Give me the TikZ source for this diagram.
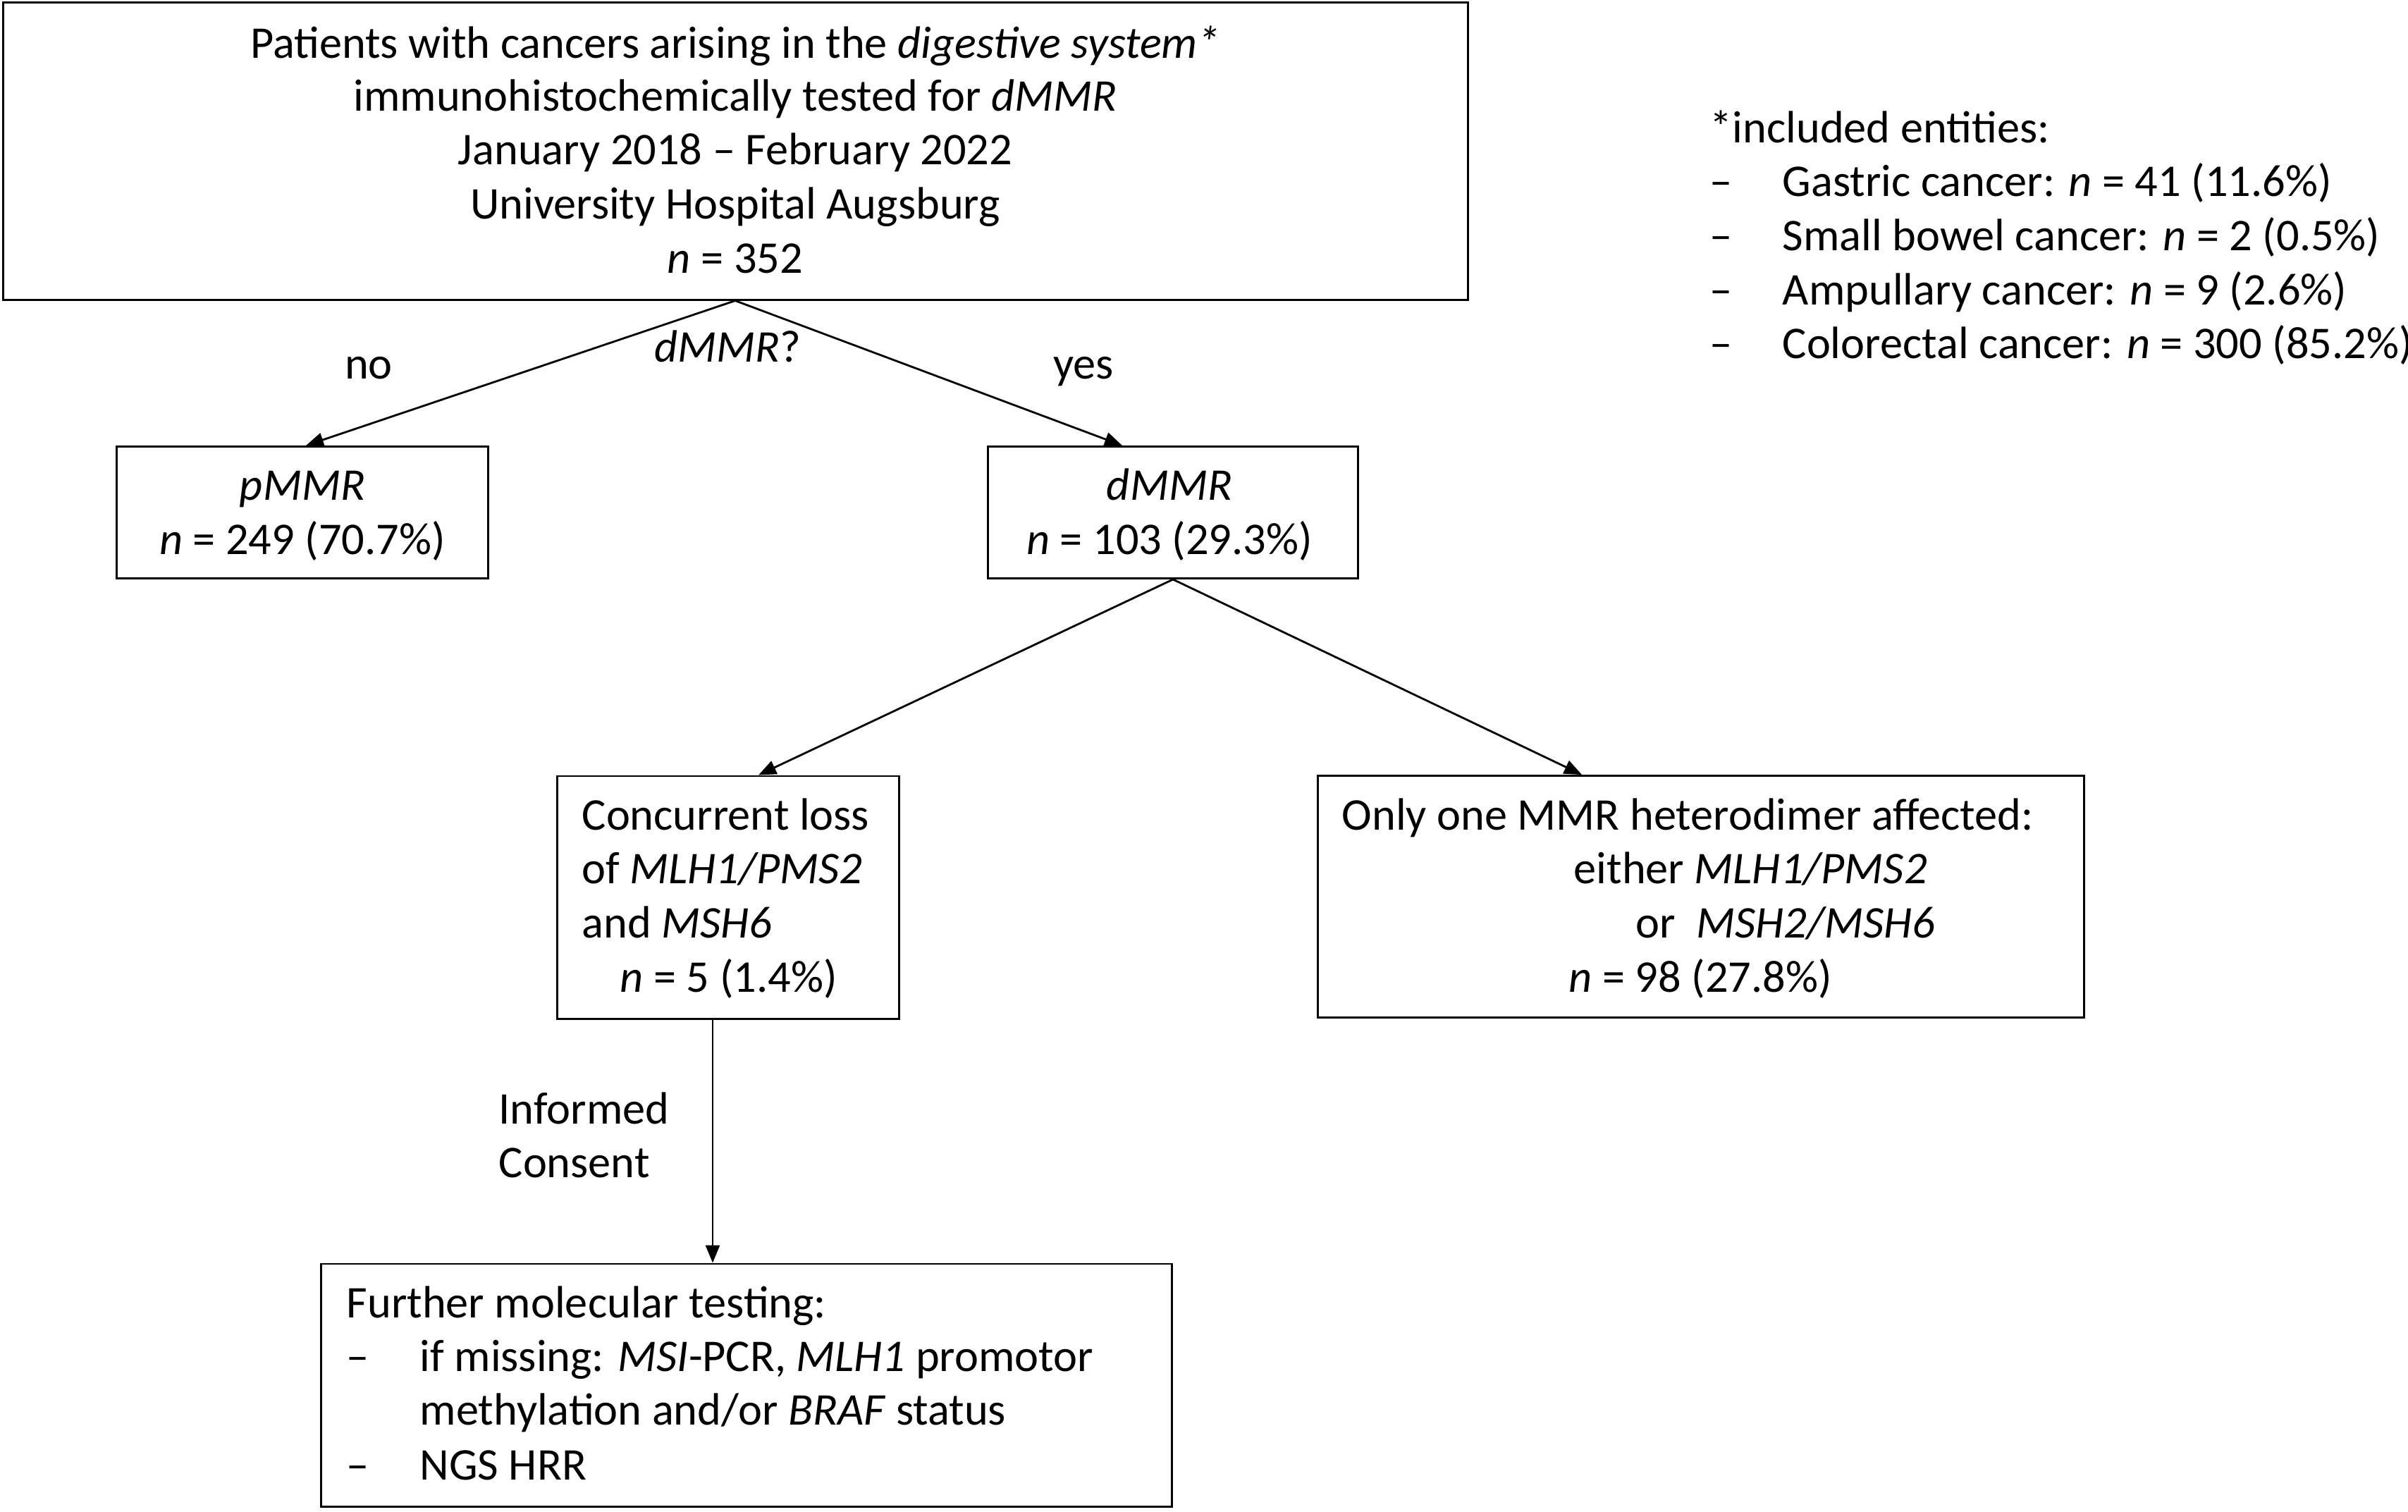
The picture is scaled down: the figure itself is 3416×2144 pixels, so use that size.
\documentclass[tikz,border=0pt]{standalone}
\usepackage{fontspec}
\setmainfont{Carlito}
\usetikzlibrary{arrows.meta}
\begin{document}
\begin{tikzpicture}[x=0.01cm,y=-0.01cm,
  box/.style={draw, line width=0.8pt, inner sep=0pt, rectangle},
  txt/.style={inner sep=0pt, anchor=base, font=\fontsize{18.3}{22}\selectfont},
  ltxt/.style={txt, anchor=base west},
  conn/.style={line width=0.8pt, -{Triangle[length=0.25cm,width=0.2cm]}},
]
\useasboundingbox (0,0) rectangle (3416,2144);
\fill[white] (0,0) rectangle (3416,2144);

% boxes
\node[box, minimum width=20.77cm, minimum height=4.21cm] (top) at (1043.5,214.5) {};
\node[box, minimum width=5.26cm, minimum height=1.87cm] (pmmr) at (429,727) {};
\node[box, minimum width=5.24cm, minimum height=1.87cm] (dmmr) at (1664,727) {};
\node[box, minimum width=4.84cm, minimum height=3.44cm] (conc) at (1033,1273) {};
\node[box, minimum width=10.87cm, minimum height=3.43cm] (only) at (2413,1272) {};
\node[box, minimum width=12.06cm, minimum height=3.44cm] (further) at (1059,1965) {};

% connector anchor columns
\coordinate (cA) at (1043,0);
\coordinate (cP) at (434,0);
\coordinate (cD) at (1592,0);
\coordinate (cB) at (1664,0);
\coordinate (cC) at (1076,0);
\coordinate (cO) at (2244,0);
\coordinate (cF) at (1011,0);

\draw[conn] (top.south -| cA) -- (pmmr.north -| cP);
\draw[conn] (top.south -| cA) -- (dmmr.north -| cD);
\draw[conn] (dmmr.south -| cB) -- (conc.north -| cC);
\draw[conn] (dmmr.south -| cB) -- (only.north -| cO);
\draw[conn] (conc.south -| cF) -- (further.north -| cF);

% top box text
\node[txt] (t1) at (1043,82) {Patients with cancers arising in the \textit{digestive system*}};
\node[txt] (t2) at (1043,157) {immunohistochemically tested for \textit{dMMR}};
\node[txt] (t3) at (1043,233) {January 2018 – February 2022};
\node[txt] (t4) at (1043,310) {University Hospital Augsburg};
\node[txt] (t5) at (1043,387) {\textit{n} = 352};

% branch labels
\node[txt] (lno) at (523,537) {no};
\node[txt] (lq) at (1032,513) {\textit{dMMR}?};
\node[txt] (lyes) at (1537,537) {yes};

% pMMR / dMMR
\node[txt] (p1) at (429,709) {\textit{pMMR}};
\node[txt] (p2) at (429,786) {\textit{n} = 249 (70.7\%)};
\node[txt] (d1) at (1659,709) {\textit{dMMR}};
\node[txt] (d2) at (1659,786) {\textit{n} = 103 (29.3\%)};

% concurrent loss
\node[ltxt] (c1) at (825,1177) {Concurrent loss};
\node[ltxt] (c2) at (825,1253) {of \textit{MLH1/PMS2}};
\node[ltxt] (c3) at (825,1330) {and \textit{MSH6}};
\node[ltxt] (c4) at (879,1407) {\textit{n} = 5 (1.4\%)};

% only one
\node[ltxt] (o1) at (1903,1177) {Only one MMR heterodimer affected:};
\node[ltxt] (o2) at (2232,1253) {either \textit{MLH1/PMS2}};
\node[ltxt] (o3) at (2320,1330) {or\ \ \textit{MSH2/MSH6}};
\node[ltxt] (o4) at (2225,1407) {\textit{n} = 98 (27.8\%)};

% informed consent
\node[ltxt] (i1) at (707,1594) {Informed};
\node[ltxt] (i2) at (707,1670) {Consent};

% further testing
\node[ltxt] (f1) at (491,1869) {Further molecular testing:};
\node[ltxt] (f2d) at (491,1945) {–};
\node[ltxt] (f2) at (595,1945) {if missing: \textit{MSI}-PCR, \textit{MLH1} promotor};
\node[ltxt] (f3) at (595,2021) {methylation and/or \textit{BRAF} status};
\node[ltxt] (f4d) at (491,2099) {–};
\node[ltxt] (f4) at (595,2099) {NGS HRR};

% legend
\node[ltxt] (g0) at (2425,202) {*included entities:};
\node[ltxt] (g1d) at (2425,278) {–};
\node[ltxt] (g1) at (2528,278) {Gastric cancer: \textit{n} = 41 (11.6\%)};
\node[ltxt] (g2d) at (2425,355) {–};
\node[ltxt] (g2) at (2528,355) {Small bowel cancer: \textit{n} = 2 (0.5\%)};
\node[ltxt] (g3d) at (2425,432) {–};
\node[ltxt] (g3) at (2528,432) {Ampullary cancer: \textit{n} = 9 (2.6\%)};
\node[ltxt] (g4d) at (2425,508) {–};
\node[ltxt] (g4) at (2528,508) {Colorectal cancer: \textit{n} = 300 (85.2\%)};
\end{tikzpicture}
\end{document}
